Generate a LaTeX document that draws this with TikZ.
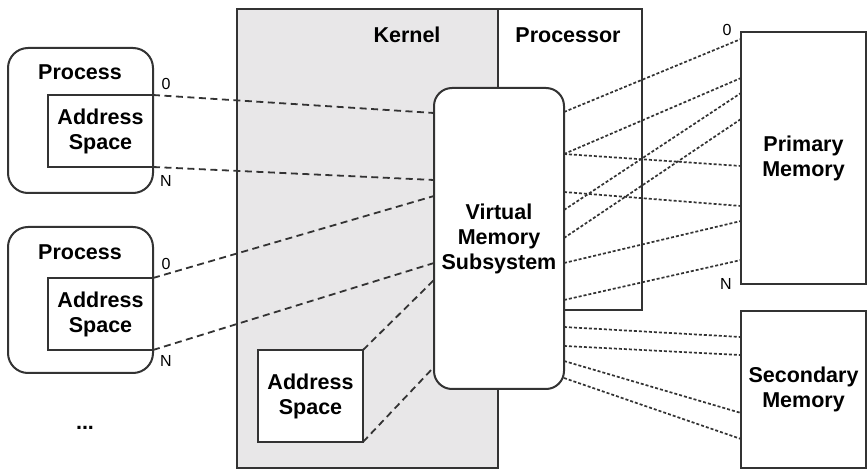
\documentclass[tikz,border=0pt]{standalone}
\usepackage{fontspec}
\setmainfont{Liberation Sans}
\definecolor{linec}{HTML}{333333}
\definecolor{kernelfill}{HTML}{E8E7E8}
\begin{document}
\begin{tikzpicture}[x=1pt,y=-1pt,
  box/.style={draw=linec, line width=2pt, inner sep=0pt, outer sep=0pt, fill=white, align=center,
    font=\fontsize{21.5}{25}\selectfont\bfseries},
  rbox/.style={box, rounded corners=20pt},
  lbl/.style={font=\fontsize{21.5}{25}\selectfont\bfseries, inner sep=0pt},
  small/.style={font=\fontsize{16}{18}\selectfont, inner sep=0pt},
  dashline/.style={draw=linec, line width=1.8pt, dash pattern=on 7pt off 4.5pt},
  dotline/.style={draw=linec, line width=1.7pt, dash pattern=on 3pt off 2pt}]
\useasboundingbox (0,0) rectangle (868,470);

% processes
\node[rbox, minimum width=145pt, minimum height=145pt] (p1) at (80.5,120.5) {};
\node[lbl] (p1t) at (80,72) {Process};
\node[box, minimum width=105pt, minimum height=72pt] (as1) at (100.5,131) {Address\\Space};
\node[small] (z1) at (166,84) {0};
\node[small] (n1) at (166,181) {N};

\node[rbox, minimum width=145pt, minimum height=146pt] (p2) at (80.5,300) {};
\node[lbl] (p2t) at (80,252) {Process};
\node[box, minimum width=105pt, minimum height=72pt] (as2) at (100.5,314) {Address\\Space};
\node[small] (z2) at (166,264) {0};
\node[small] (n2) at (166,361) {N};

\node[lbl] (dots) at (85,428) {...};

% kernel and processor
\node[box, fill=kernelfill, minimum width=261pt, minimum height=459pt] (kernel) at (367.5,238.5) {};
\node[box, minimum width=144pt, minimum height=301pt] (proc) at (570,159.5) {};
\node[lbl] (kt) at (407,35) {Kernel};
\node[lbl] (pt) at (568,35) {Processor};

\node[box, minimum width=105pt, minimum height=92pt] (kas) at (310.5,396) {Address\\Space};

\node[box, rounded corners=18pt, minimum width=130pt, minimum height=301pt] (vms) at (499,238.5) {Virtual\\Memory\\Subsystem};

% memories
\node[box, minimum width=125pt, minimum height=252pt] (pm) at (803.5,158) {Primary\\Memory};
\node[box, minimum width=125pt, minimum height=157pt] (sm) at (803.5,389.5) {Secondary\\Memory};
\node[small] (z3) at (727,30) {0};
\node[small] (n3) at (726,284) {N};

% dashed: processes to VMS
\draw[dashline] (as1.north east) -- ([yshift=-25pt]vms.north west);
\draw[dashline] (as1.south east) -- ([yshift=-92pt]vms.north west);
\draw[dashline] (as2.north east) -- ([yshift=-108pt]vms.north west);
\draw[dashline] (as2.south east) -- ([yshift=-175pt]vms.north west);
\draw[dashline] (kas.north east) -- ([yshift=-192pt]vms.north west);
\draw[dashline] (kas.south east) -- ([yshift=-279pt]vms.north west);

% dotted: VMS to primary memory
\draw[dotline] ([yshift=-24pt]vms.north east) -- ([yshift=-7pt]pm.north west);
\draw[dotline] ([yshift=-66pt]vms.north east) -- ([yshift=-46pt]pm.north west);
\draw[dotline] ([yshift=-66pt]vms.north east) -- ([yshift=-134pt]pm.north west);
\draw[dotline] ([yshift=-122pt]vms.north east) -- ([yshift=-61pt]pm.north west);
\draw[dotline] ([yshift=-150pt]vms.north east) -- ([yshift=-87pt]pm.north west);
\draw[dotline] ([yshift=-104pt]vms.north east) -- ([yshift=-174pt]pm.north west);
\draw[dotline] ([yshift=-175pt]vms.north east) -- ([yshift=-189pt]pm.north west);
\draw[dotline] ([yshift=-212pt]vms.north east) -- ([yshift=-228pt]pm.north west);

% dotted: VMS to secondary memory
\draw[dotline] ([yshift=-239pt]vms.north east) -- ([yshift=-26pt]sm.north west);
\draw[dotline] ([yshift=-258pt]vms.north east) -- ([yshift=-44pt]sm.north west);
\draw[dotline] ([yshift=-273pt]vms.north east) -- ([yshift=-102pt]sm.north west);
\draw[dotline] ([yshift=-290pt]vms.north east) -- ([yshift=-128pt]sm.north west);
\end{tikzpicture}
\end{document}
